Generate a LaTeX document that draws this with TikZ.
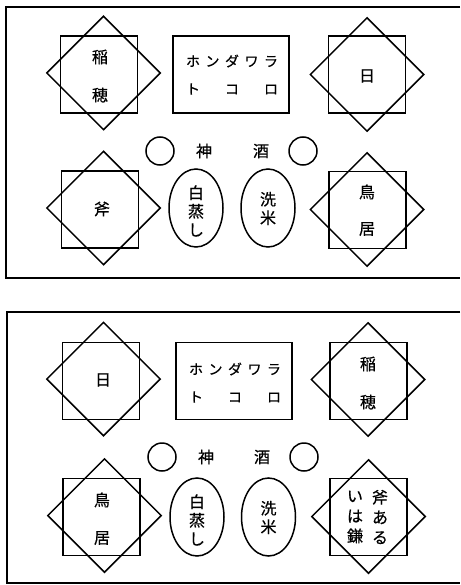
\documentclass[tikz,border=0pt]{standalone}
\usepackage{fontspec}
\newfontfamily\cjk[FakeBold=0.6]{Noto Sans CJK JP}
\usetikzlibrary{shapes.geometric}
\newcommand\kg{\hspace{5.5pt}}
\newcommand\kgw{\hspace{25pt}}
\tikzset{
  ln/.style={line width=1.5pt},
  sq/.style={ln,draw,rectangle,minimum size=77pt,inner sep=0pt},
  dia/.style={ln,draw,diamond,minimum size=114pt,inner sep=0pt},
  tbox/.style={ln,draw,rectangle,minimum width=116pt,minimum height=77pt,inner sep=0pt},
  circ/.style={ln,draw,circle,minimum size=28pt,inner sep=0pt},
  egg/.style={ln,draw,ellipse,minimum width=54pt,minimum height=78pt,inner sep=0pt},
  jp/.style={font=\cjk\fontsize{16}{18.5}\selectfont,inner sep=0pt,align=center},
  kata/.style={font=\cjk\fontsize{14}{16}\selectfont,inner sep=0pt},
}
\begin{document}
\begin{tikzpicture}[x=1pt,y=-1pt]
\useasboundingbox (0,0) rectangle (460,585);
% ---------- top panel ----------
\coordinate (f1a) at (460,7);
\coordinate (f1b) at (6,7);
\coordinate (f1c) at (6,278);
\coordinate (f1d) at (460,278);
\draw[ln] (f1a) -- (f1b) -- (f1c) -- (f1d);
\node[sq] (a1) at (99,74.5) {};
\node[dia] (a1d) at (103.5,73) {};
\node[jp] (a1t1) at (100,57) {稲};
\node[jp] (a1t2) at (100,95) {穂};
\node[tbox] (a2) at (231,74.5) {};
\node[kata] (a2t1) at (232,61) {ホ\kg ン\kg ダ\kg ワ\kg ラ};
\node[kata] (a2t2) at (232,89) {ト\kgw コ\kgw ロ};
\node[sq] (a3) at (367,74.5) {};
\node[dia] (a3d) at (367,74.5) {};
\node[jp] (a3t) at (367,76) {日};
\node[circ] (a4) at (160,151) {};
\node[circ] (a5) at (303,151) {};
\node[jp] (a6) at (204,151) {神};
\node[jp] (a7) at (261,151) {酒};
\node[sq] (a8) at (100,209.5) {};
\node[dia] (a8d) at (103.5,208) {};
\node[jp] (a8t) at (102,209) {斧};
\node[egg] (a9) at (196,208) {};
\node[jp] (a9t) at (196,211) {白\\蒸\\し};
\node[egg] (a10) at (268,208) {};
\node[jp] (a10t) at (268,208.5) {洗\\米};
\node[sq] (a11) at (367.5,210) {};
\node[dia] (a11d) at (367,209.5) {};
\node[jp] (a11t1) at (367,192) {鳥};
\node[jp] (a11t2) at (367,229) {居};
% ---------- bottom panel ----------
\coordinate (f2a) at (460,312);
\coordinate (f2b) at (7,312);
\coordinate (f2c) at (7,583);
\coordinate (f2d) at (460,583);
\draw[ln] (f2a) -- (f2b) -- (f2c) -- (f2d);
\node[sq] (b1) at (101,381) {};
\node[dia] (b1d) at (103.5,379) {};
\node[jp] (b1t) at (103,380) {日};
\node[tbox] (b2) at (234,381) {};
\node[kata] (b2t1) at (235,369) {ホ\kg ン\kg ダ\kg ワ\kg ラ};
\node[kata] (b2t2) at (235,397) {ト\kgw コ\kgw ロ};
\node[sq] (b3) at (368.5,381) {};
\node[dia] (b3d) at (368,379.5) {};
\node[jp] (b3t1) at (368,364) {稲};
\node[jp] (b3t2) at (368,402) {穂};
\node[circ] (b4) at (162,457) {};
\node[circ] (b5) at (304,457) {};
\node[jp] (b6) at (206,457) {神};
\node[jp] (b7) at (262,457) {酒};
\node[sq] (b8) at (101.5,517) {};
\node[dia] (b8d) at (104.5,515.5) {};
\node[jp] (b8t1) at (102,500) {鳥};
\node[jp] (b8t2) at (102,538) {居};
\node[egg] (b9) at (197,517) {};
\node[jp] (b9t) at (197,520) {白\\蒸\\し};
\node[egg] (b10) at (268.5,517) {};
\node[jp] (b10t) at (268.5,517.5) {洗\\米};
\node[sq] (b11) at (368.5,517) {};
\node[dia] (b11d) at (368.5,516.5) {};
\node[jp,font=\cjk\fontsize{16}{20}\selectfont] (b11t1) at (380,517) {斧\\あ\\る};
\node[jp,font=\cjk\fontsize{16}{20}\selectfont] (b11t2) at (355,517) {い\\は\\鎌};
\end{tikzpicture}
\end{document}
